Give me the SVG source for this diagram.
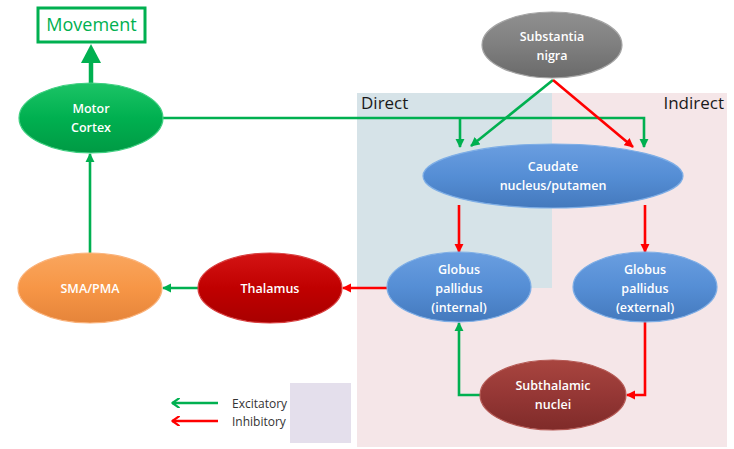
<svg xmlns="http://www.w3.org/2000/svg" width="734" height="449" viewBox="0 0 734 449">
  <defs>
    <style>
      .lbl { font-family: "Open Sans", "Liberation Sans", sans-serif; font-size: 12.5px; font-weight: 600; fill: #ffffff; text-anchor: middle; }
      .ptitle { font-family: "Open Sans", "Liberation Sans", sans-serif; font-size: 17px; fill: #1a1a1a; }
      .leg { font-family: "Open Sans", "Liberation Sans", sans-serif; font-size: 12px; fill: #333333; }
      .exc { fill: none; stroke: #00b050; stroke-width: 2.6; }
      .inh { fill: none; stroke: #ff0000; stroke-width: 2.6; }
      .node { stroke-width: 1.2; }
    </style>
    <marker id="ahG" viewBox="0 0 10 10" refX="9" refY="5" markerWidth="3.6" markerHeight="3.6" markerUnits="strokeWidth" orient="auto">
      <path d="M0,0 L10,5 L0,10 Z" fill="#00b050"/>
    </marker>
    <marker id="ahR" viewBox="0 0 10 10" refX="9" refY="5" markerWidth="3.6" markerHeight="3.6" markerUnits="strokeWidth" orient="auto">
      <path d="M0,0 L10,5 L0,10 Z" fill="#ff0000"/>
    </marker>
    <!-- open chevron heads for the legend -->
    <marker id="legG" viewBox="0 0 12 12" refX="10.5" refY="6" markerWidth="4.2" markerHeight="4.2" markerUnits="strokeWidth" orient="auto">
      <path d="M3,1 L10,6 L3,11" fill="none" stroke="#00b050" stroke-width="2.4" stroke-linecap="round" stroke-linejoin="round"/>
    </marker>
    <marker id="legR" viewBox="0 0 12 12" refX="10.5" refY="6" markerWidth="4.2" markerHeight="4.2" markerUnits="strokeWidth" orient="auto">
      <path d="M3,1 L10,6 L3,11" fill="none" stroke="#ff0000" stroke-width="2.4" stroke-linecap="round" stroke-linejoin="round"/>
    </marker>
    <linearGradient id="gGreen" x1="0" y1="0" x2="0" y2="1">
      <stop offset="0" stop-color="#1cc466"/><stop offset="0.5" stop-color="#00b050"/><stop offset="1" stop-color="#009a44"/>
    </linearGradient>
    <linearGradient id="gGray" x1="0" y1="0" x2="0" y2="1">
      <stop offset="0" stop-color="#909090"/><stop offset="0.5" stop-color="#7f7f7f"/><stop offset="1" stop-color="#6a6a6a"/>
    </linearGradient>
    <linearGradient id="gBlue" x1="0" y1="0" x2="0" y2="1">
      <stop offset="0" stop-color="#6a9ee0"/><stop offset="0.5" stop-color="#558ed5"/><stop offset="1" stop-color="#4479bd"/>
    </linearGradient>
    <linearGradient id="gOrange" x1="0" y1="0" x2="0" y2="1">
      <stop offset="0" stop-color="#f9a65e"/><stop offset="0.5" stop-color="#f79646"/><stop offset="1" stop-color="#e5843a"/>
    </linearGradient>
    <linearGradient id="gRed" x1="0" y1="0" x2="0" y2="1">
      <stop offset="0" stop-color="#d41414"/><stop offset="0.5" stop-color="#c00000"/><stop offset="1" stop-color="#a80000"/>
    </linearGradient>
    <linearGradient id="gBrown" x1="0" y1="0" x2="0" y2="1">
      <stop offset="0" stop-color="#a8453f"/><stop offset="0.5" stop-color="#953735"/><stop offset="1" stop-color="#7f2b29"/>
    </linearGradient>
  </defs>

  <rect width="734" height="449" fill="#ffffff"/>

  <!-- pathway panels -->
  <g id="panels">
    <rect x="357" y="93" width="370" height="354" fill="#f5e6e8"/>
    <rect x="357" y="93" width="195" height="195" fill="#d6e3e8"/>
    <text class="ptitle" x="361" y="109">Direct</text>
    <text class="ptitle" x="724" y="109" text-anchor="end">Indirect</text>
  </g>

  <!-- connectors -->
  <g id="connectors">
    <!-- motor cortex to movement -->
    <line x1="91" y1="83" x2="91" y2="58" stroke="#00b050" stroke-width="4.5"/>
    <path d="M81,63 L91,44 L101,63 Z" fill="#00b050"/>
    <!-- SMA/PMA to motor cortex -->
    <path class="exc" d="M90,253 V154" marker-end="url(#ahG)"/>
    <!-- motor cortex to caudate -->
    <path class="exc" d="M163,118 H644 V147" marker-end="url(#ahG)"/>
    <path class="exc" d="M460,118 V147" marker-end="url(#ahG)"/>
    <!-- substantia nigra to caudate -->
    <path class="exc" d="M553,80 L471,146" marker-end="url(#ahG)"/>
    <path class="inh" d="M553,80 L633,147" marker-end="url(#ahR)"/>
    <!-- caudate to globus pallidus -->
    <path class="inh" d="M459,205 V252" marker-end="url(#ahR)"/>
    <path class="inh" d="M645,205 V252" marker-end="url(#ahR)"/>
    <!-- GPi to thalamus -->
    <path class="inh" d="M387,288 H343" marker-end="url(#ahR)"/>
    <!-- thalamus to SMA/PMA -->
    <path class="exc" d="M198,288 H163" marker-end="url(#ahG)"/>
    <!-- GPe to subthalamic -->
    <path class="inh" d="M645,322 V395 H627" marker-end="url(#ahR)"/>
    <!-- subthalamic to GPi -->
    <path class="exc" d="M481,395 H459 V323" marker-end="url(#ahG)"/>
  </g>

  <g id="movement">
    <rect x="38" y="8" width="107" height="34" fill="#ffffff" stroke="#00b050" stroke-width="3"/>
    <text x="91.5" y="31" font-family="'Open Sans', 'Liberation Sans', sans-serif" font-size="18" fill="#00b050" text-anchor="middle">Movement</text>
  </g>

  <g id="motor-cortex">
    <ellipse class="node" cx="91" cy="118" rx="72" ry="35" fill="url(#gGreen)" stroke="#3fcf80"/>
    <text class="lbl" x="91" y="113">Motor</text>
    <text class="lbl" x="91" y="132">Cortex</text>
  </g>

  <g id="substantia-nigra">
    <ellipse class="node" cx="552" cy="45" rx="70" ry="33" fill="url(#gGray)" stroke="#a5a5a5"/>
    <text class="lbl" x="552" y="41">Substantia</text>
    <text class="lbl" x="552" y="60">nigra</text>
  </g>

  <g id="caudate">
    <ellipse class="node" cx="553" cy="176" rx="130" ry="32" fill="url(#gBlue)" stroke="#7eaee6"/>
    <text class="lbl" x="553" y="171">Caudate</text>
    <text class="lbl" x="553" y="190">nucleus/putamen</text>
  </g>

  <g id="gp-internal">
    <ellipse class="node" cx="459" cy="287" rx="72" ry="35" fill="url(#gBlue)" stroke="#7eaee6"/>
    <text class="lbl" x="459" y="274">Globus</text>
    <text class="lbl" x="459" y="293">pallidus</text>
    <text class="lbl" x="459" y="312">(internal)</text>
  </g>

  <g id="gp-external">
    <ellipse class="node" cx="645" cy="287" rx="72" ry="35" fill="url(#gBlue)" stroke="#7eaee6"/>
    <text class="lbl" x="645" y="274">Globus</text>
    <text class="lbl" x="645" y="293">pallidus</text>
    <text class="lbl" x="645" y="312">(external)</text>
  </g>

  <g id="thalamus">
    <ellipse class="node" cx="270" cy="288" rx="72" ry="35" fill="url(#gRed)" stroke="#d84040"/>
    <text class="lbl" x="270" y="293">Thalamus</text>
  </g>

  <g id="sma-pma">
    <ellipse class="node" cx="90" cy="288" rx="72" ry="35" fill="url(#gOrange)" stroke="#fab27a"/>
    <text class="lbl" x="90" y="293">SMA/PMA</text>
  </g>

  <g id="subthalamic">
    <ellipse class="node" cx="553" cy="395" rx="73" ry="35" fill="url(#gBrown)" stroke="#b55a55"/>
    <text class="lbl" x="553" y="390">Subthalamic</text>
    <text class="lbl" x="553" y="409">nuclei</text>
  </g>

  <!-- legend -->
  <g id="legend">
    <path class="exc" d="M218,403 H172" stroke-width="3" marker-end="url(#legG)"/>
    <path class="inh" d="M218,421 H172" stroke-width="3" marker-end="url(#legR)"/>
    <text class="leg" x="232" y="408">Excitatory</text>
    <text class="leg" x="232" y="426">Inhibitory</text>
    <rect x="290" y="383" width="61" height="60" fill="#e4dfec"/>
  </g>
</svg>
